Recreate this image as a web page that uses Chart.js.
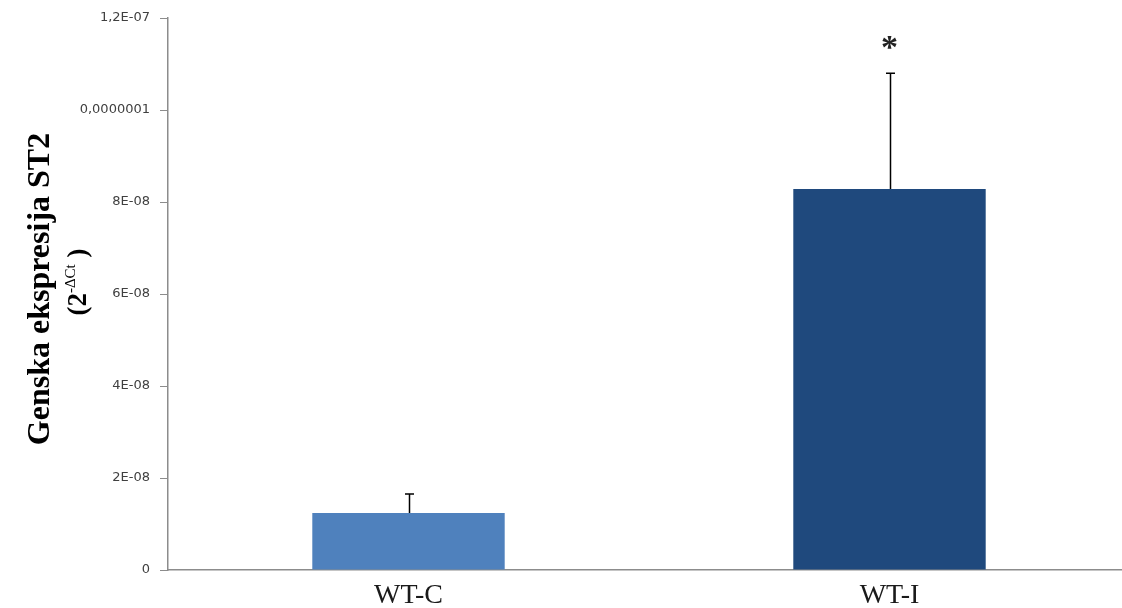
<!DOCTYPE html>
<html>
<head>
<meta charset="utf-8">
<title>Genska ekspresija ST2</title>
<script src="https://cdn.jsdelivr.net/npm/chart.js@4.4.1/dist/chart.umd.min.js"></script>
<style>
  html, body { margin: 0; padding: 0; background: #ffffff; overflow: hidden; }
  #wrap { width: 1122px; height: 608px; overflow: hidden; }
</style>
</head>
<body>
<div id="wrap"><canvas id="c" width="1135" height="608"></canvas></div>
<script>
// Groups, mean expression (2^-ΔCt) and upper error (SD)
const categories = ['WT-C', 'WT-I'];
const meanValues = [1.24e-8, 8.28e-8];
const errorValues = [0.41e-8, 2.52e-8];
const significance = ['', '*'];
const barColors = ['#4F81BD', '#1F497D'];

// Y axis ticks
const yMin = 0;
const yMax = 1.2e-7;
const yStep = 2e-8;
const yTickLabels = ['0', '2E-08', '4E-08', '6E-08', '8E-08', '0,0000001', '1,2E-07'];

const titleLine1 = 'Genska ekspresija ST2';
const titleLine2 = { before: '(2', sup: '-\u0394Ct', after: ' )' };

// Upper error whiskers plus significance marks above them
const errorBarPlugin = {
  id: 'errorBars',
  afterDatasetsDraw(chart) {
    const ctx = chart.ctx;
    const meta = chart.getDatasetMeta(0);
    const yScale = chart.scales.y;
    ctx.save();
    ctx.strokeStyle = '#000000';
    ctx.lineWidth = 1.5;
    meta.data.forEach((bar, i) => {
      const top = yScale.getPixelForValue(meanValues[i] + errorValues[i]);
      const x = Math.round(bar.x) + 0.5;
      ctx.beginPath();
      ctx.moveTo(x, bar.y);
      ctx.lineTo(x, top);
      ctx.moveTo(x - 4.5, top);
      ctx.lineTo(x + 4.5, top);
      ctx.stroke();
      if (significance[i]) {
        ctx.fillStyle = '#222222';
        ctx.font = 'bold 34px "Liberation Serif", "Times New Roman", serif';
        ctx.textAlign = 'center';
        ctx.textBaseline = 'alphabetic';
        ctx.fillText(significance[i], bar.x, top - 15);
      }
    });
    ctx.restore();
  }
};

// Two-line rotated y-axis title with a superscript exponent
const yTitlePlugin = {
  id: 'yTitle',
  afterDraw(chart) {
    const ctx = chart.ctx;
    const area = chart.chartArea;
    const cy = (area.top + area.bottom) / 2;
    ctx.save();
    ctx.fillStyle = '#000000';
    ctx.textBaseline = 'middle';

    ctx.save();
    ctx.translate(41, cy - 5);
    ctx.rotate(-Math.PI / 2);
    ctx.font = 'bold 32px "Liberation Serif", "Times New Roman", serif';
    ctx.textAlign = 'center';
    ctx.fillText(titleLine1, 0, 0);
    ctx.restore();

    ctx.save();
    ctx.translate(79, cy - 12);
    ctx.rotate(-Math.PI / 2);
    const bigFont = 'bold 27px "Liberation Serif", "Times New Roman", serif';
    const supFont = '15px "Liberation Serif", "Times New Roman", serif';
    ctx.font = bigFont;
    const w1 = ctx.measureText(titleLine2.before).width;
    const w3 = ctx.measureText(titleLine2.after).width;
    ctx.font = supFont;
    const w2 = ctx.measureText(titleLine2.sup).width;
    let x = -(w1 + w2 + w3) / 2;
    ctx.textAlign = 'left';
    ctx.font = bigFont;
    ctx.fillText(titleLine2.before, x, 0);
    x += w1;
    ctx.font = supFont;
    ctx.fillText(titleLine2.sup, x, -8);
    x += w2;
    ctx.font = bigFont;
    ctx.fillText(titleLine2.after, x, 0);
    ctx.restore();

    ctx.restore();
  }
};

new Chart(document.getElementById('c'), {
  type: 'bar',
  data: {
    labels: categories,
    datasets: [{
      data: meanValues,
      backgroundColor: barColors,
      borderWidth: 0,
      barPercentage: 0.4,
      categoryPercentage: 1.0
    }]
  },
  options: {
    responsive: false,
    animation: false,
    layout: { padding: { top: 18, right: 5, bottom: 0, left: 0 } },
    plugins: {
      legend: { display: false },
      tooltip: { enabled: false }
    },
    scales: {
      x: {
        grid: { display: false },
        border: { display: true, color: '#8C8C8C', width: 1.5 },
        ticks: {
          color: '#1a1a1a',
          padding: 1,
          font: { family: '"Liberation Serif", "Times New Roman", serif', size: 28 }
        },
        afterFit(scale) { scale.height = 38; }
      },
      y: {
        min: yMin,
        max: yMax,
        grid: { drawOnChartArea: false, drawTicks: true, tickLength: 8, color: '#8C8C8C' },
        border: { display: true, color: '#8C8C8C', width: 1.5 },
        ticks: {
          stepSize: yStep,
          padding: 10,
          color: '#404040',
          font: { family: '"DejaVu Sans", Verdana, sans-serif', size: 13 },
          callback: (v, i) => yTickLabels[i]
        },
        afterFit(scale) { scale.width = 168; }
      }
    }
  },
  plugins: [errorBarPlugin, yTitlePlugin]
});
</script>
</body>
</html>
